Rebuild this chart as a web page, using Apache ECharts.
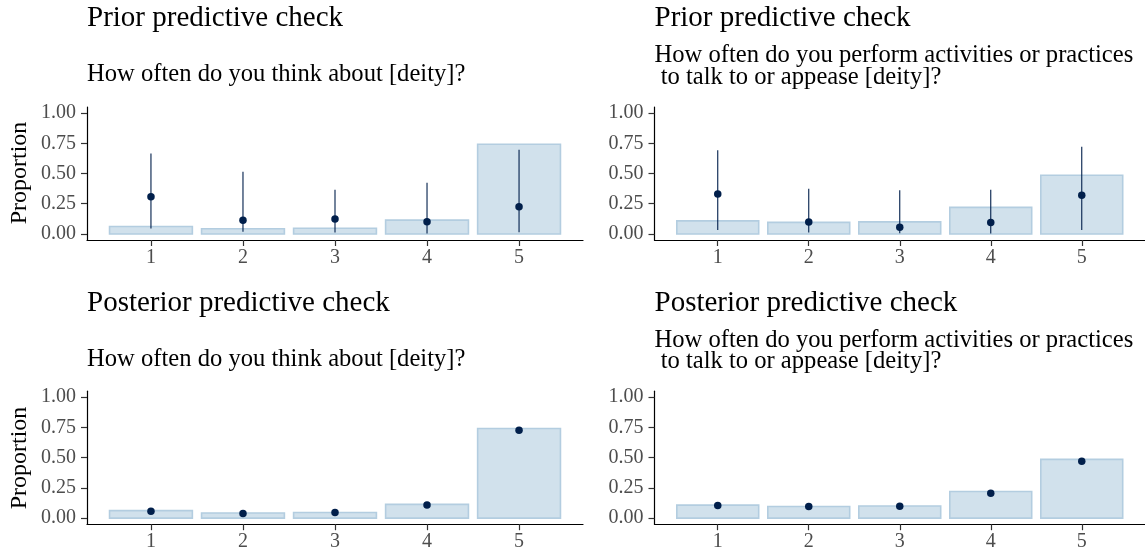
<!DOCTYPE html>
<html>
<head>
<meta charset="utf-8">
<script src="https://cdn.jsdelivr.net/npm/echarts@6/dist/echarts.min.js"></script>
<style>
  html, body { margin: 0; padding: 0; background: #ffffff; }
  #chart { width: 1145px; height: 553px; }
</style>
</head>
<body>
<div id="chart"></div>
<script>
// ---------- data ----------
const categories = [1, 2, 3, 4, 5];
const yTicks = [0, 0.25, 0.5, 0.75, 1];

// observed proportions (bars)
const thinkObserved = [0.062, 0.043, 0.047, 0.114, 0.742];
const practiceObserved = [0.108, 0.096, 0.100, 0.220, 0.486];

// prior predictive: point + interval
const priorThinkMid = [0.307, 0.113, 0.124, 0.100, 0.225];
const priorThinkLo = [0.046, 0.019, 0.011, 0.003, 0.015];
const priorThinkHi = [0.666, 0.514, 0.365, 0.424, 0.696];

const priorPracticeMid = [0.331, 0.099, 0.055, 0.094, 0.321];
const priorPracticeLo = [0.033, 0.011, 0.006, 0.003, 0.033];
const priorPracticeHi = [0.693, 0.373, 0.362, 0.365, 0.722];

// posterior predictive: point
const postThinkMid = [0.057, 0.038, 0.046, 0.109, 0.727];
const postPracticeMid = [0.104, 0.096, 0.098, 0.205, 0.470];

const titlePrior = 'Prior predictive check';
const titlePost = 'Posterior predictive check';
const subThink = 'How often do you think about [deity]?';
const subPractice = 'How often do you perform activities or practices\n to talk to or appease [deity]?';
const yName = 'Proportion';

// ---------- style ----------
const FONT = '"Liberation Serif", "Times New Roman", serif';
const barFill = '#d1e1ec';
const barStroke = '#b3cde0';
const dark = '#011f4b';

const panels = [
  { left: 87,    top: 107, obs: thinkObserved,    mid: priorThinkMid,    lo: priorThinkLo,    hi: priorThinkHi },
  { left: 654.5, top: 107, obs: practiceObserved, mid: priorPracticeMid, lo: priorPracticeLo, hi: priorPracticeHi },
  { left: 87,    top: 391.2, obs: thinkObserved,    mid: postThinkMid },
  { left: 654.5, top: 391.2, obs: practiceObserved, mid: postPracticeMid }
];
const GW = 496, GH = 133;

const grid = [], xAxis = [], yAxis = [], series = [];
panels.forEach((p, i) => {
  grid.push({ left: p.left, top: p.top, width: GW, height: GH, containLabel: false });
  xAxis.push({
    type: 'value', gridIndex: i, min: 0.305, max: 5.695,
    axisLine: { onZero: false, lineStyle: { color: '#000000', width: 1.2 } },
    axisTick: { length: 6, lineStyle: { color: '#333333', width: 1.2 }, customValues: categories },
    axisLabel: { customValues: categories, margin: 8, color: '#4d4d4d', fontFamily: FONT, fontSize: 20,
                 formatter: v => String(Math.round(v)) },
    splitLine: { show: false }
  });
  yAxis.push({
    type: 'value', gridIndex: i, min: -0.05, max: 1.05,
    axisLine: { show: true, onZero: false, lineStyle: { color: '#000000', width: 1.2 } },
    axisTick: { show: true, length: 6, lineStyle: { color: '#333333', width: 1.2 }, customValues: yTicks },
    axisLabel: { customValues: yTicks, margin: 11, color: '#4d4d4d', fontFamily: FONT, fontSize: 20,
                 formatter: v => v.toFixed(2) },
    splitLine: { show: false }
  });
  // bars
  series.push({
    type: 'custom', xAxisIndex: i, yAxisIndex: i,
    data: categories.map((c, k) => [c, p.obs[k]]),
    renderItem: (params, api) => {
      const x = api.value(0), y = api.value(1);
      const p0 = api.coord([x - 0.45, y]);
      const p1 = api.coord([x + 0.45, 0]);
      return {
        type: 'rect',
        shape: { x: p0[0], y: p0[1], width: p1[0] - p0[0], height: p1[1] - p0[1] },
        style: { fill: barFill, stroke: barStroke, lineWidth: 1.6 }
      };
    },
    silent: true, z: 1
  });
  // intervals
  if (p.lo) {
    series.push({
      type: 'custom', xAxisIndex: i, yAxisIndex: i,
      data: categories.map((c, k) => [c, p.lo[k], p.hi[k]]),
      renderItem: (params, api) => {
        const a = api.coord([api.value(0), api.value(1)]);
        const b = api.coord([api.value(0), api.value(2)]);
        return { type: 'line', shape: { x1: a[0], y1: a[1], x2: b[0], y2: b[1] },
                 style: { stroke: dark, lineWidth: 1.1 } };
      },
      silent: true, z: 2
    });
  }
  // points
  series.push({
    type: 'scatter', xAxisIndex: i, yAxisIndex: i,
    data: categories.map((c, k) => [c, p.mid[k]]),
    symbol: 'circle', symbolSize: 7.5,
    itemStyle: { color: dark, opacity: 1 },
    silent: true, z: 3
  });
});

function txt(text, x, y, size, extra) {
  return {
    type: 'text', x: x, y: y, silent: true,
    style: Object.assign({ text: text, font: size + 'px ' + FONT, fill: '#000000',
                           align: 'left', verticalAlign: 'middle' }, extra || {})
  };
}
const OFF = 284.6;
const graphic = [
  txt(titlePrior, 87, 18.7, 29),
  txt(titlePrior, 654.5, 18.7, 29),
  txt(titlePost, 87, 18.7 + OFF, 29),
  txt(titlePost, 654.5, 18.7 + OFF, 29),
  txt(subThink, 87, 74.5, 24.6),
  txt(subThink, 87, 74.5 + OFF, 24.6),
  txt(subPractice, 654.5, 66.5, 24.6, { lineHeight: 21.5 }),
  txt(subPractice, 654.5, 66.5 + OFF, 24.6, { lineHeight: 21.5 }),
  Object.assign(txt(yName, 19.5, 173, 24, { align: 'center' }), { rotation: Math.PI / 2 }),
  Object.assign(txt(yName, 19.5, 458, 24, { align: 'center' }), { rotation: Math.PI / 2 })
];

const chart = echarts.init(document.getElementById('chart'), null, { renderer: 'canvas' });
chart.setOption({
  animation: false,
  backgroundColor: '#ffffff',
  grid: grid, xAxis: xAxis, yAxis: yAxis, series: series,
  graphic: graphic
});
</script>
</body>
</html>
